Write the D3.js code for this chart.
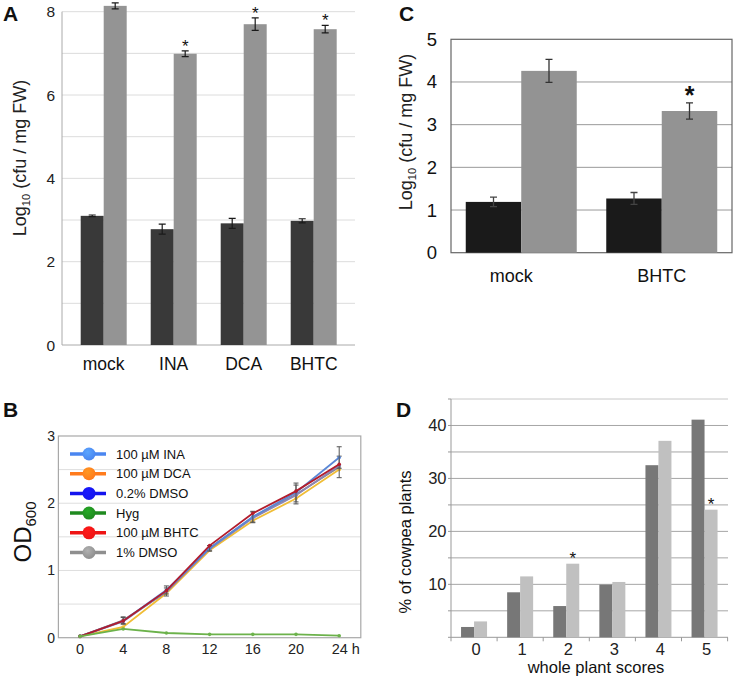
<!DOCTYPE html>
<html><head><meta charset="utf-8">
<script src="https://cdn.jsdelivr.net/npm/d3@7"></script>
<style>
html,body{margin:0;padding:0;background:#fff;}
svg{display:block;font-family:"Liberation Sans",Arial,sans-serif;}
</style></head>
<body>
<svg id="fig" width="734" height="678"></svg>
<script>
// ---------- Panel A ----------
const catsA = ["mock","INA","DCA","BHTC"];
const darkA = [3.10, 2.78, 2.92, 2.98];
const darkAErr = [0.02, 0.12, 0.12, 0.05];
const lightA = [8.14, 6.99, 7.70, 7.58];
const lightAErr = [0.07, 0.07, 0.15, 0.09];
const starA = [false, true, true, true];
const ticksA = [0,2,4,6,8];

// ---------- Panel C ----------
const catsC = ["mock","BHTC"];
const darkC = [1.19, 1.27];
const darkCErr = [0.11, 0.14];
const lightC = [4.26, 3.32];
const lightCErr = [0.27, 0.19];
const starC = [false, true];
const ticksC = [0,1,2,3,4,5];

// ---------- Panel B ----------
const timesB = [0,4,8,12,16,20,24];
const seriesNames = ["100 \u00b5M INA","100 \u00b5M DCA","0.2% DMSO","Hyg","100 \u00b5M BHTC","1% DMSO"];
const ina   = [0.02,0.25,0.71,1.33,1.80,2.16,2.68];
const dca   = [0.02,0.16,0.66,1.30,1.74,2.07,2.50];
const dmso2 = [0.02,0.24,0.69,1.32,1.78,2.12,2.56];
const hyg   = [0.02,0.13,0.07,0.05,0.05,0.05,0.03];
const bhtc  = [0.02,0.25,0.70,1.37,1.85,2.18,2.58];
const dmso1 = [0.02,0.26,0.68,1.33,1.79,2.13,2.54];
const errB  = [0.00,0.05,0.06,0.04,0.08,0.14,0.16];
const ticksBy = [0,1,2,3];
const ticksBx = [0,4,8,12,16,20,24];

// ---------- Panel D ----------
const catsD = ["0","1","2","3","4","5"];
const darkD = [1.95, 8.5, 5.9, 9.95, 32.5, 41.1];
const lightD = [3.0, 11.5, 13.9, 10.45, 37.1, 24.1];
const starD = [false,false,true,false,false,true];
const ticksD = [10,20,30,40];

const svg = d3.select("#fig");

function panelLetter(t,x,y){
  svg.append("text").attr("x",x).attr("y",y).attr("font-size",21).attr("font-weight","bold")
    .attr("fill","#111").text(t);
}
function logLabel(x,y,size){
  const t = svg.append("text").attr("transform",`translate(${x},${y}) rotate(-90)`)
    .attr("text-anchor","middle").attr("font-size",size).attr("fill","#222");
  t.append("tspan").text("Log");
  t.append("tspan").attr("font-size",size*0.62).attr("dy",size*0.22).text("10");
  t.append("tspan").attr("dy",-size*0.22).text(" (cfu / mg FW)");
}
function errBar(g,cx,y,v,e,cap,color,w){
  const p = d3.path();
  p.moveTo(cx,y(v+e)); p.lineTo(cx,y(v-e));
  p.moveTo(cx-cap,y(v+e)); p.lineTo(cx+cap,y(v+e));
  p.moveTo(cx-cap,y(v-e)); p.lineTo(cx+cap,y(v-e));
  g.append("path").attr("d",p.toString()).attr("stroke",color).attr("stroke-width",w).attr("fill","none");
}

// ===== Panel A =====
{
  const y = d3.scaleLinear().domain([0,8]).range([345,11.7]);
  const x = d3.scaleBand().domain(catsA).range([68.7,348.7]).paddingInner(0.343).paddingOuter(0.1715);
  const g = svg.append("g");
  g.selectAll("line.grid").data(d3.range(1,9)).enter().append("line")
    .attr("x1",62).attr("x2",355).attr("y1",d=>y(d)).attr("y2",d=>y(d))
    .attr("stroke","#dcdcdc").attr("stroke-width",1);
  g.append("line").attr("x1",62).attr("x2",62).attr("y1",y(0)).attr("y2",y(8)).attr("stroke","#aaa");
  g.append("line").attr("x1",62).attr("x2",355).attr("y1",y(0)).attr("y2",y(0)).attr("stroke","#aaa");
  g.selectAll("text.tk").data(ticksA).enter().append("text")
    .attr("x",55).attr("y",d=>y(d)+5.5).attr("text-anchor","end").attr("font-size",15.5).attr("fill","#222").text(d=>d);
  const bw = x.bandwidth()/2;
  catsA.forEach((c,i)=>{
    const x0 = x(c);
    g.append("rect").attr("x",x0).attr("width",bw).attr("y",y(darkA[i])).attr("height",y(0)-y(darkA[i])).attr("fill","#393939");
    g.append("rect").attr("x",x0+bw).attr("width",bw).attr("y",y(lightA[i])).attr("height",y(0)-y(lightA[i])).attr("fill","#949494");
    errBar(g,x0+bw/2,y,darkA[i],darkAErr[i],3.5,"#1a1a1a",1.2);
    errBar(g,x0+bw*1.5,y,lightA[i],lightAErr[i],3.5,"#1a1a1a",1.2);
    if(starA[i]) g.append("text").attr("x",x0+bw*1.5).attr("y",y(lightA[i]+lightAErr[i])+1)
      .attr("text-anchor","middle").attr("font-size",17).attr("fill","#111").text("*");
    g.append("text").attr("x",x0+bw).attr("y",370).attr("text-anchor","middle").attr("font-size",17.5).attr("fill","#111").text(c);
  });
  logLabel(26,158,18);
  panelLetter("A",3,21);
}

// ===== Panel C =====
{
  const y = d3.scaleLinear().domain([0,5]).range([252.7,39.3]);
  const x = d3.scaleBand().domain(catsC).range([451,732]).paddingInner(0.21).paddingOuter(0.105);
  const g = svg.append("g");
  g.selectAll("line.grid").data([1,2,3,4]).enter().append("line")
    .attr("x1",451).attr("x2",732).attr("y1",d=>y(d)).attr("y2",d=>y(d)).attr("stroke","#999").attr("stroke-width",1);
  g.append("rect").attr("x",451).attr("y",y(5)).attr("width",281).attr("height",y(0)-y(5))
    .attr("fill","none").attr("stroke","#666").attr("stroke-width",1.2);
  g.selectAll("text.tk").data(ticksC).enter().append("text")
    .attr("x",437).attr("y",d=>y(d)+6.5).attr("text-anchor","end").attr("font-size",18.5).attr("fill","#111").text(d=>d);
  const bw = x.bandwidth()/2;
  catsC.forEach((c,i)=>{
    const x0 = x(c);
    g.append("rect").attr("x",x0).attr("width",bw).attr("y",y(darkC[i])).attr("height",y(0)-y(darkC[i])).attr("fill","#1a1a1a");
    g.append("rect").attr("x",x0+bw).attr("width",bw).attr("y",y(lightC[i])).attr("height",y(0)-y(lightC[i])).attr("fill","#939393");
    errBar(g,x0+bw/2,y,darkC[i],darkCErr[i],3.5,"#444",1.3);
    errBar(g,x0+bw*1.5,y,lightC[i],lightCErr[i],3.5,"#333",1.3);
    if(starC[i]) g.append("text").attr("x",x0+bw*1.5).attr("y",y(lightC[i]+lightCErr[i])+1)
      .attr("text-anchor","middle").attr("font-size",25).attr("font-weight","bold").attr("fill","#111").text("*");
    g.append("text").attr("x",x0+bw-(i===0?10:0)).attr("y",282).attr("text-anchor","middle").attr("font-size",18).attr("fill","#111").text(c);
  });
  logLabel(412,132,18);
  panelLetter("C",399,21);
}

// ===== Panel B =====
{
  const y = d3.scaleLinear().domain([0,3]).range([637.7,436]);
  const x = d3.scaleLinear().domain([-2,26]).range([58.4,360.8]);
  const g = svg.append("g");
  g.selectAll("line.grid").data([0.5,1,1.5,2,2.5]).enter().append("line")
    .attr("x1",58.4).attr("x2",360.8).attr("y1",d=>y(d)).attr("y2",d=>y(d)).attr("stroke","#dedede");
  g.append("rect").attr("x",58.4).attr("y",y(3)).attr("width",302.4).attr("height",y(0)-y(3))
    .attr("fill","none").attr("stroke","#a8a8a8").attr("stroke-width",1.2);
  g.selectAll("text.ty").data(ticksBy).enter().append("text")
    .attr("x",55).attr("y",d=>y(d)+5).attr("text-anchor","end").attr("font-size",14).attr("fill","#222").text(d=>d);
  g.selectAll("text.tx").data(ticksBx).enter().append("text")
    .attr("x",d=>d===24?x(d)-7.5:x(d)).attr("y",654).attr("text-anchor",d=>d===24?"start":"middle")
    .attr("font-size",14.5).attr("fill","#222").text(d=>d===24?"24 h":d);

  const series = [
    {vals:ina,   line:"#5a87d6", mk:"#4a86f0", err:true},
    {vals:dca,   line:"#f0bd36", mk:"#ff7b1c", err:false},
    {vals:dmso2, line:"#8a86b6", mk:"#1414ee", err:false},
    {vals:hyg,   line:"#6cb24b", mk:"#1f8a1f", err:false},
    {vals:bhtc,  line:"#b21c2c", mk:"#ee1414", err:false},
    {vals:dmso1, line:"#8c7f86", mk:"#8f8f8f", err:true}
  ];
  const ln = d3.line().x((d,i)=>x(timesB[i])).y(d=>y(d));
  const order = [1,5,2,0,4,3];
  order.forEach(k=>{
    const s = series[k];
    g.append("path").attr("d",ln(s.vals)).attr("fill","none").attr("stroke",s.line).attr("stroke-width",1.8);
    g.selectAll(null).data(s.vals).enter().append("circle")
      .attr("cx",(d,i)=>x(timesB[i])).attr("cy",d=>y(d)).attr("r",1.8).attr("fill",s.line);
    if(s.err){
      s.vals.forEach((v,i)=>{
        const e = errB[i]; if(!e) return;
        errBar(g,x(timesB[i]),y,v,e,2.5,"#555",1);
      });
    }
  });
  // legend
  const defs = svg.append("defs");
  series.forEach((s,i)=>{
    const grad = defs.append("radialGradient").attr("id","lg"+i).attr("cx","40%").attr("cy","35%").attr("r","65%");
    grad.append("stop").attr("offset","0%").attr("stop-color",d3.color(s.mk).brighter(0.6));
    grad.append("stop").attr("offset","100%").attr("stop-color",s.mk);
    const ly = 454 + i*19.7;
    g.append("line").attr("x1",70).attr("x2",106).attr("y1",ly).attr("y2",ly).attr("stroke",s.mk).attr("stroke-width",3.5);
    g.append("circle").attr("cx",89).attr("cy",ly).attr("r",6.5).attr("fill",`url(#lg${i})`);
    g.append("text").attr("x",116).attr("y",ly+4.5).attr("font-size",13).attr("fill","#111").text(seriesNames[i]);
  });
  const t = svg.append("text").attr("transform","translate(31,532) rotate(-90)")
    .attr("text-anchor","middle").attr("font-size",24).attr("fill","#111");
  t.append("tspan").text("OD");
  t.append("tspan").attr("font-size",15).attr("dy",5).text("600");
  panelLetter("B",3,417);
}

// ===== Panel D =====
{
  const y = d3.scaleLinear().domain([0,45]).range([637.3,399]);
  const x = d3.scaleBand().domain(catsD).range([451,727.6]).paddingInner(0.436).paddingOuter(0.218);
  const g = svg.append("g");
  g.selectAll("line.grid").data(d3.range(5,46,5)).enter().append("line")
    .attr("x1",451).attr("x2",728).attr("y1",d=>y(d)).attr("y2",d=>y(d))
    .attr("stroke",d=>d===45?"#c8c8c8":"#a6a6a6").attr("stroke-width",1);
  g.append("line").attr("x1",451).attr("x2",451).attr("y1",y(0)).attr("y2",y(45)).attr("stroke","#999");
  g.append("line").attr("x1",451).attr("x2",728).attr("y1",y(0)).attr("y2",y(0)).attr("stroke","#999");
  g.selectAll("line.yt").data(d3.range(0,46,5)).enter().append("line")
    .attr("x1",448).attr("x2",451).attr("y1",d=>y(d)).attr("y2",d=>y(d)).attr("stroke","#999");
  const step = x.step();
  g.selectAll("line.xt").data(d3.range(0,7)).enter().append("line")
    .attr("x1",d=>451+d*step).attr("x2",d=>451+d*step).attr("y1",y(0)).attr("y2",y(0)+4).attr("stroke","#999");
  g.selectAll("text.ty").data(ticksD).enter().append("text")
    .attr("x",446.5).attr("y",d=>y(d)+6).attr("text-anchor","end").attr("font-size",16.5).attr("fill","#222").text(d=>d);
  const bw = x.bandwidth()/2;
  catsD.forEach((c,i)=>{
    const x0 = x(c);
    g.append("rect").attr("x",x0).attr("width",bw).attr("y",y(darkD[i])).attr("height",y(0)-y(darkD[i])).attr("fill","#777777");
    g.append("rect").attr("x",x0+bw).attr("width",bw).attr("y",y(lightD[i])).attr("height",y(0)-y(lightD[i])).attr("fill","#c0c0c0");
    if(starD[i]) g.append("text").attr("x",x0+bw*1.5).attr("y",y(lightD[i])+0.5)
      .attr("text-anchor","middle").attr("font-size",17).attr("fill","#111").text("*");
    g.append("text").attr("x",x0+bw+2).attr("y",655).attr("text-anchor","middle").attr("font-size",16.5).attr("fill","#222").text(c);
  });
  svg.append("text").attr("x",596).attr("y",673).attr("text-anchor","middle").attr("font-size",16.5).attr("fill","#111").text("whole plant scores");
  svg.append("text").attr("transform","translate(411,542) rotate(-90)").attr("text-anchor","middle")
    .attr("font-size",16.5).attr("fill","#111").text("% of cowpea plants");
  panelLetter("D",396,417);
}
</script>
</body></html>
